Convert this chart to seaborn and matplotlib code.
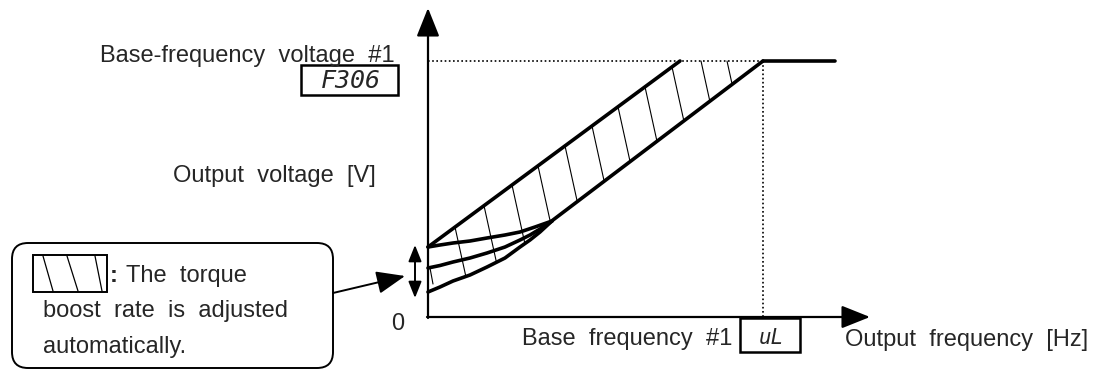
import numpy as np
import matplotlib
matplotlib.use('Agg')
import matplotlib.pyplot as plt
from matplotlib.patches import FancyBboxPatch, Rectangle
import seaborn as sns

# ---- geometry (pixel units, y grows downward) ----
ORIGIN = (428, 317)
Y_TIP = 8
X_TIP = 870
BASE_V_Y = 61          # base-frequency voltage level
BASE_F_X = 763         # base frequency #1
FLAT_END_X = 835

# upper boost line (straight) and the three auto-boost curves
upper_x = [428, 680]
upper_y = [247, 61]
curve_top_x = [428, 440, 453, 470, 487, 505, 520, 535, 552]
curve_top_y = [247, 245, 243, 241, 238, 235, 232, 227, 221]
curve_mid_x = [428, 440, 453, 470, 487, 505, 520, 530, 540, 552]
curve_mid_y = [268, 265.5, 262, 258, 253, 247, 240, 235, 229, 221]
curve_low_x = [428, 440, 453, 470, 487, 505, 520, 530, 540, 553, 763]
curve_low_y = [292, 287, 281, 275, 267, 258, 247, 240, 232, 220, 61]

# hatch lines: start x on the upper boundary
hatch_x = [455, 484, 512, 538, 565, 592, 618, 645, 672, 701, 727]
HATCH_SLANT = 0.22

LINE_BLACK = '#000000'

sns.set_theme(style='white')
plt.rcParams['font.family'] = ['Liberation Sans', 'DejaVu Sans']

fig = plt.figure(figsize=(10.97, 3.70), dpi=100)
ax = fig.add_axes([0, 0, 1, 1])
ax.set_xlim(0, 1097)
ax.set_ylim(370, 0)
ax.axis('off')


def upper_at(x):
    return np.interp(x, [428, 680, 900], [247, 61, 61])


def lower_at(x):
    return np.interp(x, curve_low_x, curve_low_y)


# hatching between upper line and lower curve
for hx in hatch_x:
    y0 = upper_at(hx)
    t = np.linspace(0, 200, 2001)
    xs = hx + HATCH_SLANT * t
    ys = y0 + t
    hit = np.argmax(ys >= lower_at(xs))
    ax.plot([hx, xs[hit]], [y0, ys[hit]], color=LINE_BLACK, lw=0.8)
ax.plot([430, 433], [268, 284], color=LINE_BLACK, lw=0.8)

# dotted guides
ax.plot([ORIGIN[0], BASE_F_X], [BASE_V_Y, BASE_V_Y], color=LINE_BLACK, lw=1.2, ls=(0, (1, 1.5)))
ax.plot([BASE_F_X, BASE_F_X], [BASE_V_Y, ORIGIN[1]], color=LINE_BLACK, lw=1.2, ls=(0, (1, 1.5)))

# thick V/f curves
for cx, cy in [(upper_x, upper_y), (curve_top_x, curve_top_y),
               (curve_mid_x, curve_mid_y), (curve_low_x, curve_low_y)]:
    sns.lineplot(x=cx, y=cy, ax=ax, color=LINE_BLACK, lw=2.6, sort=False,
                 estimator=None, solid_capstyle='round', solid_joinstyle='round')
ax.plot([BASE_F_X, FLAT_END_X], [BASE_V_Y, BASE_V_Y], color=LINE_BLACK, lw=2.6)

# axes with arrows
arrow = dict(arrowstyle='-|>,head_length=0.55,head_width=0.22', mutation_scale=32,
             lw=1.6, color=LINE_BLACK, shrinkA=0, shrinkB=0)
ax.annotate('', xy=(ORIGIN[0], Y_TIP), xytext=(ORIGIN[0], ORIGIN[1] + 1), arrowprops=arrow)
ax.annotate('', xy=(X_TIP, ORIGIN[1]), xytext=(ORIGIN[0] - 1, ORIGIN[1]), arrowprops=arrow)

# boost range double arrow
ax.annotate('', xy=(415, 245), xytext=(415, 298),
            arrowprops=dict(arrowstyle='<|-|>,head_length=0.55,head_width=0.22',
                            mutation_scale=18, lw=1.4, color=LINE_BLACK,
                            shrinkA=0, shrinkB=0))

# callout arrow
ax.annotate('', xy=(405, 276), xytext=(333, 293),
            arrowprops=dict(arrowstyle='-|>,head_length=0.55,head_width=0.22',
                            mutation_scale=32, lw=1.4, color=LINE_BLACK,
                            shrinkA=0, shrinkB=0))

FS = 17
ax.text(395, 62, 'Base-frequency  voltage  #1', fontsize=FS, ha='right', va='baseline')
ax.add_patch(Rectangle((301, 65), 97, 30, fill=False, lw=1.8, ec=LINE_BLACK))
ax.text(351, 81, 'F306', fontsize=18, ha='center', va='center', style='italic',
        family='DejaVu Sans Mono')

ax.text(173, 182, 'Output  voltage  [V]', fontsize=FS, ha='left', va='baseline')
ax.text(398, 330, '0', fontsize=FS, ha='center', va='baseline')

ax.text(522, 345, 'Base  frequency  #1', fontsize=FS, ha='left', va='baseline')
ax.add_patch(Rectangle((740, 318), 60, 34, fill=False, lw=1.8, ec=LINE_BLACK))
ax.text(771, 338, 'uL', fontsize=15, ha='center', va='center', style='italic',
        family='DejaVu Sans Mono')
ax.text(845, 346, 'Output  frequency  [Hz]', fontsize=FS, ha='left', va='baseline')

# callout box
ax.add_patch(FancyBboxPatch((12, 243), 321, 125, boxstyle='round,pad=0,rounding_size=16',
                            fill=False, lw=1.4, ec=LINE_BLACK))
ax.add_patch(Rectangle((33, 255), 74, 37, fill=False, lw=1.4, ec=LINE_BLACK))
for x0, x1 in [(43, 53), (67, 78), (95, 102)]:
    ax.plot([x0, x1], [256, 291], color=LINE_BLACK, lw=0.9)
ax.text(110, 282, ':', fontsize=FS, fontweight='bold', ha='left', va='baseline')
ax.text(126, 282, 'The  torque', fontsize=FS, ha='left', va='baseline')
ax.text(43, 317, 'boost  rate  is  adjusted', fontsize=FS, ha='left', va='baseline')
ax.text(43, 353, 'automatically.', fontsize=FS, ha='left', va='baseline')

fig.savefig('out.png', dpi=100, facecolor='white')
